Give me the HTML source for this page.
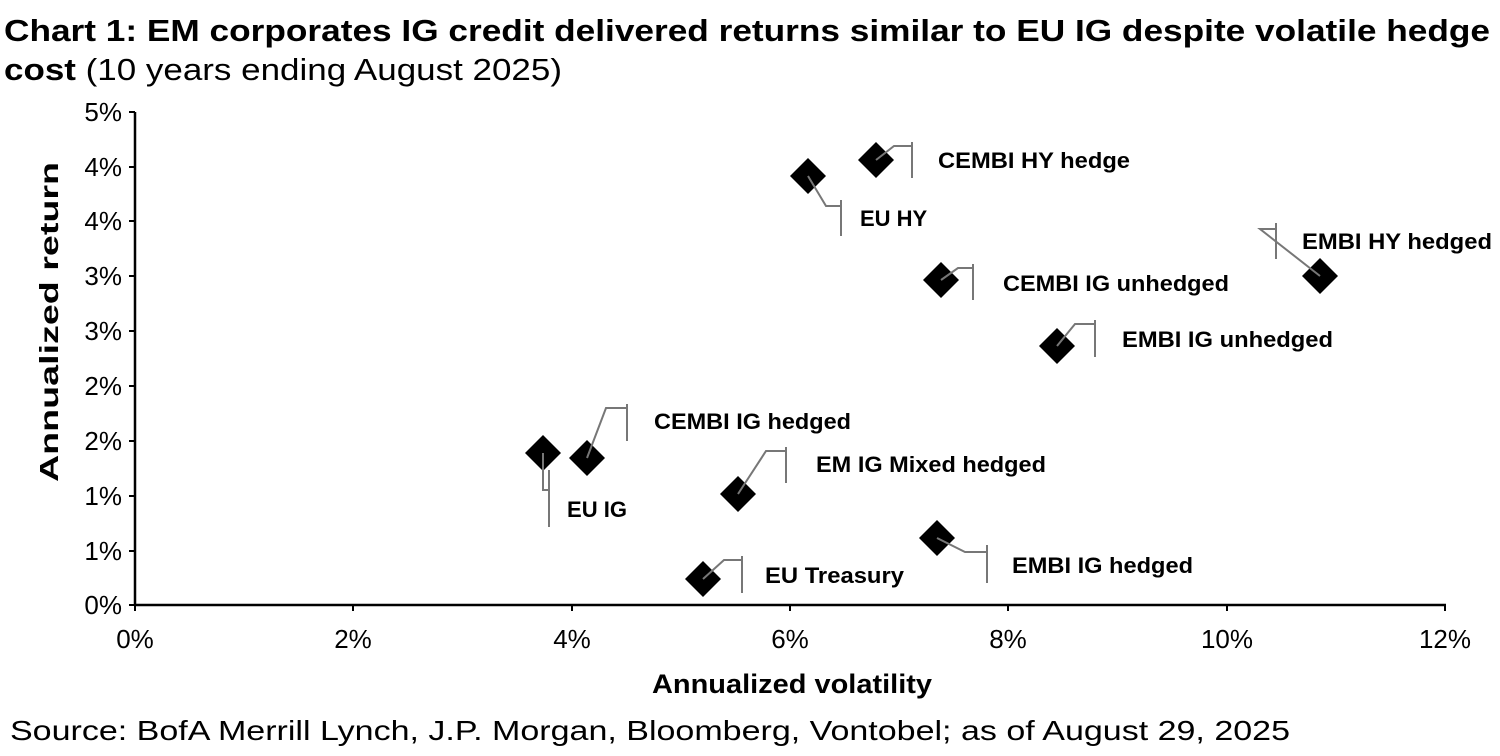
<!DOCTYPE html>
<html><head><meta charset="utf-8"><style>
html,body{margin:0;padding:0;background:#fff;}
body{width:1500px;height:751px;overflow:hidden;}
text{font-family:"Liberation Sans",Arial,sans-serif;}
</style></head><body>
<svg width="1500" height="751" viewBox="0 0 1500 751" xmlns="http://www.w3.org/2000/svg">
<text x="4" y="41" font-size="31" font-weight="bold" fill="#000" textLength="1486" lengthAdjust="spacingAndGlyphs">Chart 1: EM corporates IG credit delivered returns similar to EU IG despite volatile hedge</text>
<text x="4" y="80" font-size="31" fill="#000" textLength="558" lengthAdjust="spacingAndGlyphs"><tspan font-weight="bold">cost</tspan> (10 years ending August 2025)</text>
<g stroke="#000" stroke-width="2.5" fill="none">
<line x1="135" y1="112" x2="135" y2="606"/>
<line x1="134" y1="605" x2="1446" y2="605"/>
</g>
<g stroke="#000" stroke-width="2">
<line x1="129" y1="112" x2="135" y2="112"/><line x1="129" y1="167" x2="135" y2="167"/><line x1="129" y1="221" x2="135" y2="221"/><line x1="129" y1="276" x2="135" y2="276"/><line x1="129" y1="331" x2="135" y2="331"/><line x1="129" y1="386" x2="135" y2="386"/><line x1="129" y1="441" x2="135" y2="441"/><line x1="129" y1="496" x2="135" y2="496"/><line x1="129" y1="551" x2="135" y2="551"/><line x1="129" y1="605" x2="135" y2="605"/>
<line x1="135" y1="605" x2="135" y2="611"/><line x1="353" y1="605" x2="353" y2="611"/><line x1="572" y1="605" x2="572" y2="611"/><line x1="790" y1="605" x2="790" y2="611"/><line x1="1008" y1="605" x2="1008" y2="611"/><line x1="1227" y1="605" x2="1227" y2="611"/><line x1="1445" y1="605" x2="1445" y2="611"/>
</g>
<g font-size="26" fill="#000" text-anchor="end">
<text x="122" y="121">5%</text><text x="122" y="176">4%</text><text x="122" y="230">4%</text><text x="122" y="285">3%</text><text x="122" y="340">3%</text><text x="122" y="395">2%</text><text x="122" y="450">2%</text><text x="122" y="505">1%</text><text x="122" y="560">1%</text><text x="122" y="614">0%</text>
</g>
<g font-size="26" fill="#000" text-anchor="middle">
<text x="135" y="648">0%</text><text x="353" y="648">2%</text><text x="572" y="648">4%</text><text x="790" y="648">6%</text><text x="1008" y="648">8%</text><text x="1227" y="648">10%</text><text x="1445" y="648">12%</text>
</g>
<text x="652" y="693" font-size="27" font-weight="bold" textLength="280" lengthAdjust="spacingAndGlyphs">Annualized volatility</text>
<text transform="translate(58,482) rotate(-90)" font-size="26" font-weight="bold" textLength="320" lengthAdjust="spacingAndGlyphs">Annualized return</text>
<text x="10" y="740" font-size="28" textLength="1280" lengthAdjust="spacingAndGlyphs">Source: BofA Merrill Lynch, J.P. Morgan, Bloomberg, Vontobel; as of August 29, 2025</text>
<g fill="#000">
<path d="M543 435 L561 453 L543 471 L525 453Z"/>
<path d="M587 440 L605 458 L587 476 L569 458Z"/>
<path d="M738 476 L756 494 L738 512 L720 494Z"/>
<path d="M703 561 L721 579 L703 597 L685 579Z"/>
<path d="M937 520 L955 538 L937 556 L919 538Z"/>
<path d="M808 158 L826 176 L808 194 L790 176Z"/>
<path d="M876 142 L894 160 L876 178 L858 160Z"/>
<path d="M941 262 L959 280 L941 298 L923 280Z"/>
<path d="M1057 328 L1075 346 L1057 364 L1039 346Z"/>
<path d="M1320 258 L1338 276 L1320 294 L1302 276Z"/>
</g>
<g stroke="#777" stroke-width="2" fill="none">
<polyline points="876,160 894,146 912,146"/><line x1="912" y1="142" x2="912" y2="178"/>
<polyline points="808,176 826,206 841,206"/><line x1="841" y1="200" x2="841" y2="236"/>
<polyline points="1320,276 1260,229 1276,229"/><line x1="1276" y1="223" x2="1276" y2="259"/>
<polyline points="941,280 958,268 973,268"/><line x1="973" y1="264" x2="973" y2="300"/>
<polyline points="1057,346 1075,324 1095,324"/><line x1="1095" y1="320" x2="1095" y2="357"/>
<polyline points="587,458 606,408 627,408"/><line x1="627" y1="404" x2="627" y2="441"/>
<polyline points="738,494 766,451 786,451"/><line x1="786" y1="447" x2="786" y2="483"/>
<polyline points="543,453 543,490 549,490"/><line x1="549" y1="470" x2="549" y2="527"/>
<polyline points="703,579 724,560 742,560"/><line x1="742" y1="556" x2="742" y2="593"/>
<polyline points="937,538 965,552 987,552"/><line x1="987" y1="545" x2="987" y2="583"/>
</g>
<g font-size="22" font-weight="bold" fill="#000">
<text x="938" y="168" textLength="192" lengthAdjust="spacingAndGlyphs">CEMBI HY hedge</text>
<text x="860" y="226">EU HY</text>
<text x="1302" y="249" textLength="190" lengthAdjust="spacingAndGlyphs">EMBI HY hedged</text>
<text x="1003" y="291" textLength="226" lengthAdjust="spacingAndGlyphs">CEMBI IG unhedged</text>
<text x="1122" y="347" textLength="211" lengthAdjust="spacingAndGlyphs">EMBI IG unhedged</text>
<text x="654" y="429" textLength="197" lengthAdjust="spacingAndGlyphs">CEMBI IG hedged</text>
<text x="816" y="472" textLength="230" lengthAdjust="spacingAndGlyphs">EM IG Mixed hedged</text>
<text x="567" y="517" textLength="60" lengthAdjust="spacingAndGlyphs">EU IG</text>
<text x="765" y="583" textLength="139" lengthAdjust="spacingAndGlyphs">EU Treasury</text>
<text x="1012" y="573" textLength="181" lengthAdjust="spacingAndGlyphs">EMBI IG hedged</text>
</g>
</svg>
</body></html>
